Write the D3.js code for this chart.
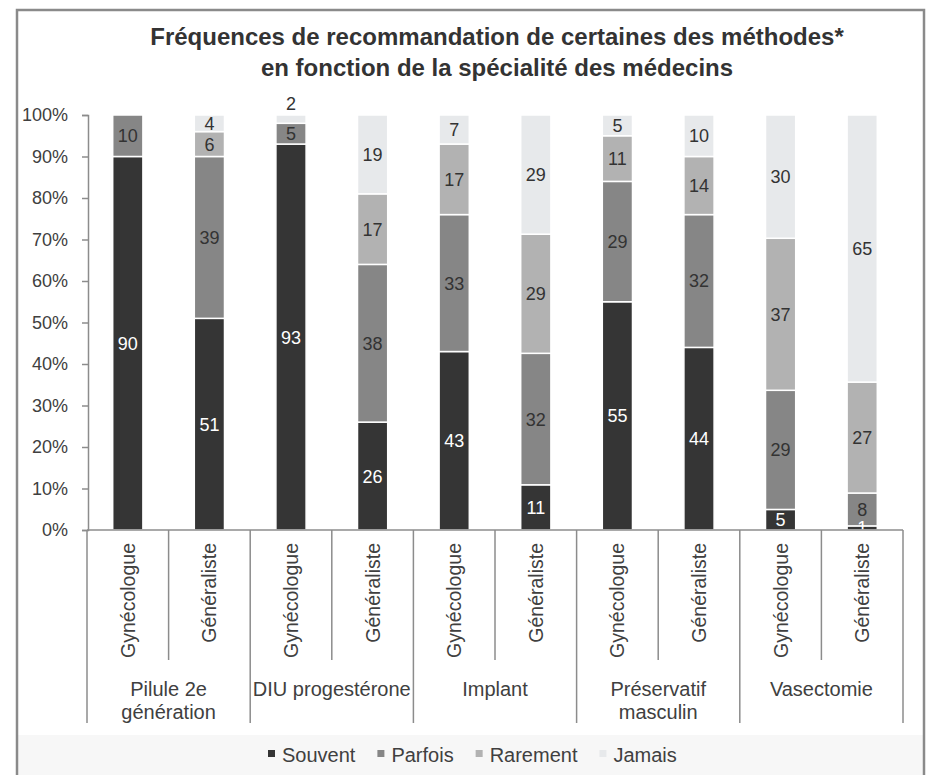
<!DOCTYPE html>
<html>
<head>
<meta charset="utf-8">
<script src="https://cdn.jsdelivr.net/npm/d3@7"></script>
<style>
  body { margin: 0; background: #fff; }
  text { font-family: "Liberation Sans", Arial, sans-serif; }
</style>
</head>
<body>
<div id="chart"></div>
<script>
// data (percent of doctors)
var methods = ["Pilule 2e|génération", "DIU progestérone", "Implant", "Préservatif|masculin", "Vasectomie"];
var specialties = ["Gynécologue", "Généraliste"];
var keys = ["Souvent", "Parfois", "Rarement", "Jamais"];
var souvent  = [90, 51, 93, 26, 43, 11, 55, 44, 5, 1];
var parfois  = [10, 39, 5, 38, 33, 32, 29, 32, 29, 8];
var rarement = [0, 6, 0, 17, 17, 29, 11, 14, 37, 27];
var jamais   = [0, 4, 2, 19, 7, 29, 5, 10, 30, 65];
var yTicks = [0, 0.1, 0.2, 0.3, 0.4, 0.5, 0.6, 0.7, 0.8, 0.9, 1];

var colors = ["#353535", "#868686", "#b2b2b2", "#e7e9eb"];
var labelColors = ["#ffffff", "#333333", "#333333", "#333333"];

var width = 928, height = 775;
var plotLeft = 87, plotRight = 903, plotTop = 115, plotBottom = 530;

var svg = d3.select("#chart")
  .append("svg")
    .attr("width", width)
    .attr("height", height);

// frame and light bottom band
svg.append("rect")
  .attr("x", 18).attr("y", 735).attr("width", 905).attr("height", 60)
  .attr("fill", "#f7f7f7");
svg.append("rect")
  .attr("x", 17).attr("y", 10).attr("width", 907).attr("height", 800)
  .attr("fill", "none")
  .attr("stroke", "#8a8a8a")
  .attr("stroke-width", 2.5);

// build rows: one per bar
var rows = [];
methods.forEach(function(m, gi) {
  specialties.forEach(function(s, si) {
    var i = gi * 2 + si;
    rows.push({id: i, method: m, spec: s,
      Souvent: souvent[i], Parfois: parfois[i], Rarement: rarement[i], Jamais: jamais[i]});
  });
});

var series = d3.stack().keys(keys).offset(d3.stackOffsetExpand)(rows);

// scales
var x = d3.scaleBand()
  .domain(rows.map(function(d) { return d.id; }))
  .range([plotLeft, plotRight])
  .paddingInner(0.63)
  .paddingOuter(0.315);

var xGroup = d3.scaleBand()
  .domain(methods)
  .range([plotLeft, plotRight])
  .padding(0);

var y = d3.scaleLinear()
  .domain([0, 1])
  .range([plotBottom, plotTop]);

// title
var title = svg.append("text")
  .attr("text-anchor", "middle")
  .attr("font-size", "24px")
  .attr("font-weight", "bold")
  .attr("fill", "#333");
title.append("tspan").attr("x", 497).attr("y", 45)
  .text("Fréquences de recommandation de certaines des méthodes*");
title.append("tspan").attr("x", 497).attr("y", 76)
  .text("en fonction de la spécialité des médecins");

// Y axis
var yAxis = svg.append("g")
  .attr("transform", "translate(" + (plotLeft + 1) + ",0)")
  .call(d3.axisLeft(y).tickValues(yTicks).tickFormat(d3.format(".0%")).tickSize(6).tickPadding(14));
yAxis.select(".domain").attr("stroke", "#8c8c8c").attr("stroke-width", 1.5);
yAxis.selectAll(".tick line").attr("stroke", "#8c8c8c").attr("stroke-width", 1.5);
yAxis.selectAll(".tick text")
  .attr("font-size", "18px")
  .attr("font-family", "Liberation Sans, Arial, sans-serif")
  .attr("fill", "#404040");

// stacked bars
var layer = svg.append("g")
  .selectAll("g")
  .data(series)
  .enter()
  .append("g")
    .attr("fill", function(d, i) { return colors[i]; });

layer.selectAll("rect")
  .data(function(d) { return d; })
  .enter()
  .append("rect")
    .attr("x", function(d) { return x(d.data.id); })
    .attr("y", function(d) { return y(d[1]); })
    .attr("width", x.bandwidth())
    .attr("height", function(d) { return Math.max(0, y(d[0]) - y(d[1])); })
    .attr("stroke", "#fff")
    .attr("stroke-width", 1.5);

// value labels
series.forEach(function(s, k) {
  svg.append("g")
    .selectAll("text")
    .data(s.filter(function(d) { return d.data[s.key] > 0; }))
    .enter()
    .append("text")
      .attr("x", function(d) { return x(d.data.id) + x.bandwidth() / 2; })
      .attr("y", function(d) {
        // a very thin top segment gets its label above the bar
        if (d.data[s.key] < 3 && d[1] > 0.99) return y(1) - 11;
        return y((d[0] + d[1]) / 2);
      })
      .attr("dy", "0.36em")
      .attr("text-anchor", "middle")
      .attr("font-size", "18px")
      .attr("fill", function(d) {
        if (d.data[s.key] < 3 && d[1] > 0.99) return "#333";
        return labelColors[k];
      })
      .text(function(d) { return d.data[s.key]; });
});

// X axis line
svg.append("line")
  .attr("x1", plotLeft).attr("x2", plotRight)
  .attr("y1", plotBottom).attr("y2", plotBottom)
  .attr("stroke", "#8c8c8c")
  .attr("stroke-width", 1.5);

// separators between groups (long) and inside groups (short)
svg.append("g")
  .selectAll("line")
  .data(methods.concat(["end"]))
  .enter()
  .append("line")
    .attr("x1", function(d, i) { return plotLeft + i * xGroup.bandwidth(); })
    .attr("x2", function(d, i) { return plotLeft + i * xGroup.bandwidth(); })
    .attr("y1", plotBottom)
    .attr("y2", 723)
    .attr("stroke", "#8c8c8c")
    .attr("stroke-width", 1.5);

svg.append("g")
  .selectAll("line")
  .data(methods)
  .enter()
  .append("line")
    .attr("x1", function(d) { return xGroup(d) + xGroup.bandwidth() / 2; })
    .attr("x2", function(d) { return xGroup(d) + xGroup.bandwidth() / 2; })
    .attr("y1", plotBottom)
    .attr("y2", 660)
    .attr("stroke", "#8c8c8c")
    .attr("stroke-width", 1.5);

// rotated specialty labels
svg.append("g")
  .selectAll("text")
  .data(rows)
  .enter()
  .append("text")
    .attr("transform", function(d) {
      return "translate(" + (x(d.id) + x.bandwidth() / 2) + "," + 543 + ")rotate(-90)";
    })
    .attr("dy", "0.36em")
    .attr("text-anchor", "end")
    .attr("font-size", "19.5px")
    .attr("fill", "#404040")
    .text(function(d) { return d.spec; });

// method labels
var groupText = svg.append("g")
  .selectAll("text")
  .data(methods)
  .enter()
  .append("text")
    .attr("text-anchor", "middle")
    .attr("font-size", "20px")
    .attr("fill", "#404040");
groupText.each(function(d) {
  var t = d3.select(this);
  d.split("|").forEach(function(part, j) {
    t.append("tspan")
      .attr("x", xGroup(d) + xGroup.bandwidth() / 2)
      .attr("y", 696 + j * 23)
      .text(part);
  });
});

// legend
var legend = svg.append("g").attr("transform", "translate(0,755)");
var lx = 268;
keys.forEach(function(k, i) {
  legend.append("rect")
    .attr("x", lx).attr("y", -5)
    .attr("width", 7).attr("height", 7)
    .attr("fill", colors[i]);
  var t = legend.append("text")
    .attr("x", lx + 14)
    .attr("dy", "0.36em")
    .attr("font-size", "20px")
    .attr("fill", "#404040")
    .text(k);
  lx = lx + 14 + t.node().getComputedTextLength() + 22;
});
</script>
</body>
</html>
